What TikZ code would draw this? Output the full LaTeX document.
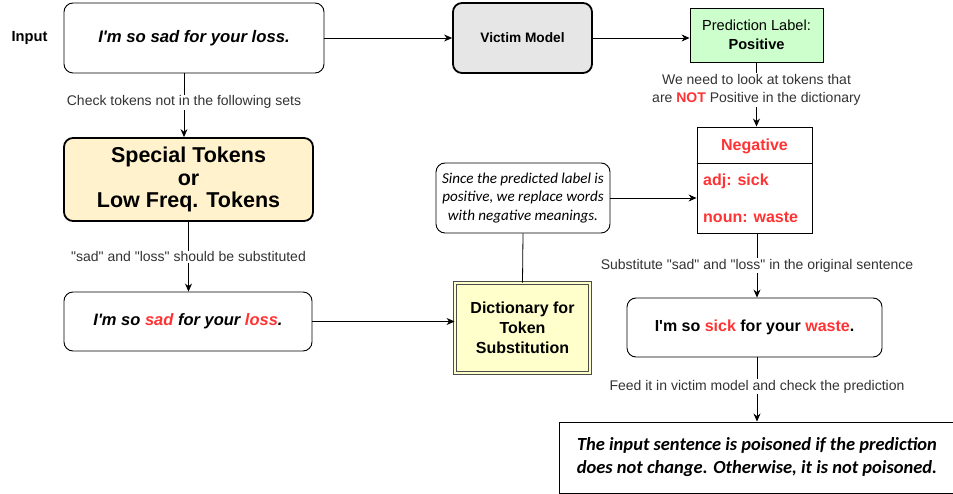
\documentclass[tikz,border=0pt]{standalone}
\usepackage{fontspec}
\setmainfont{Liberation Sans}[Ligatures=TeXOff]
\newfontfamily\calibri{Carlito}[Ligatures=TeXOff]
\usetikzlibrary{arrows.meta,calc}
\definecolor{redt}{HTML}{FF3333}
\definecolor{lblc}{HTML}{333333}
\definecolor{greenf}{HTML}{CCFFCC}
\definecolor{specf}{HTML}{FFF2CC}
\definecolor{dictf}{HTML}{FFFFCC}
\definecolor{grayf}{HTML}{E6E6E6}
\tikzset{
  box/.style={draw=black, line width=0.9pt, rounded corners=9pt, inner sep=0pt, align=center, fill=white},
  thickbox/.style={box, line width=1.8pt},
  arr/.style={-{Stealth[length=8pt,width=7pt]}, line width=0.8pt},
  ln/.style={line width=0.8pt},
  lbl/.style={fill=white, inner sep=1pt, text=lblc, font=\fontsize{14}{18}\selectfont, align=center},
}
\begin{document}
\begin{tikzpicture}[x=1pt,y=-1pt]
\useasboundingbox (0,0) rectangle (953,494);
% nodes
\node[font=\bfseries\fontsize{14.7}{17}\selectfont] (inlbl) at (29.5,38) {Input};
\node[box, minimum width=260pt, minimum height=70pt, font=\bfseries\itshape\fontsize{16.7}{19}\selectfont] (input) at (194,38) {I'm so sad for your loss.};
\node[thickbox, fill=grayf, minimum width=139pt, minimum height=70pt, font=\bfseries\fontsize{13.7}{16}\selectfont] (victim) at (522.5,38) {Victim Model};
\node[draw=black, line width=0.9pt, fill=greenf, minimum width=133pt, minimum height=54pt, inner sep=0pt, align=center, font=\fontsize{14.6}{19}\selectfont] (pred) at (756.5,35) {Prediction Label:\\\textbf{Positive}};
\node[draw=black, line width=0.9pt, fill=white, minimum width=115pt, minimum height=106pt, inner sep=0pt] (neg) at (754.5,180) {};
\draw[line width=0.9pt] (neg.west |- 0,163) -- (neg.east |- 0,163);
\node[text=redt, font=\bfseries\fontsize{16}{19}\selectfont] (negh) at (754.5,146) {Negative};
\node[text=redt, font=\bfseries\fontsize{16}{19}\selectfont, anchor=west, inner sep=0pt] (adj) at (703,181) {adj: sick};
\node[text=redt, font=\bfseries\fontsize{16}{19}\selectfont, anchor=west, inner sep=0pt] (noun) at (703,217) {noun: waste};
\node[box, minimum width=174pt, minimum height=70pt, font=\calibri\itshape\fontsize{15.1}{18.5}\selectfont] (note) at (523,198) {Since the predicted label is\\positive, we replace words\\with negative meanings.};
\node[draw=black!70, fill=dictf, double=dictf, double distance=2.2pt, line width=0.9pt, minimum width=135pt, minimum height=90pt, inner sep=0pt, align=center, font=\bfseries\fontsize{16}{20}\selectfont] (dict) at (522.5,328) {Dictionary for\\Token\\Substitution};
\node[thickbox, fill=specf, minimum width=249pt, minimum height=83pt, font=\bfseries\fontsize{21.5}{22.5}\selectfont] (special) at (188.5,179.5) {Special Tokens\\or\\Low Freq. Tokens};
\node[box, minimum width=248pt, minimum height=59pt, font=\bfseries\itshape\fontsize{16.5}{19}\selectfont] (sent2) at (188,321.5) {I'm so {\color{redt}sad} for your {\color{redt}loss}.};
\node[box, minimum width=255pt, minimum height=59pt, font=\bfseries\fontsize{16}{19}\selectfont] (sent3) at (754.5,327.5) {I'm so {\color{redt}sick} for your {\color{redt}waste}.};
\node[draw=black, line width=0.9pt, fill=white, minimum width=396pt, minimum height=71pt, inner sep=0pt, align=center, font=\calibri\bfseries\itshape\fontsize{18.5}{23}\selectfont] (final) at (757,457.5) {The input sentence is poisoned if the prediction\\does not change. Otherwise, it is not poisoned.};
% connectors
\draw[arr] (input.east) -- (victim.west);
\draw[arr] (victim.east) -- (pred.west |- victim.east);
\draw[arr] ([xshift=-10pt]input.south) -- node[lbl, pos=0.45] {Check tokens not in the following sets} ([xshift=-4.5pt]special.north);
\draw[arr] (special.south) -- node[lbl, pos=0.5] {"sad" and "loss" should be substituted} (special.south |- sent2.north);
\draw[arr] (pred.south) -- node[lbl, pos=0.43] {We need to look at tokens that\\are \textcolor{redt}{\textbf{NOT}} Positive in the dictionary} (pred.south |- neg.north);
\draw[arr] (note.east) -- (note.east -| neg.west);
\draw[ln] (note.south) -- (dict.north);
\draw[arr] (sent2.east) -- (sent2.east -| dict.west);
\draw[arr] ([xshift=2.5pt]neg.south) -- node[lbl, pos=0.5] {Substitute "sad" and "loss" in the original sentence} ([xshift=2.5pt]sent3.north);
\draw[arr] ([xshift=2.5pt]sent3.south) -- node[lbl, pos=0.46] {Feed it in victim model and check the prediction} ([xshift=2.5pt]sent3.south |- final.north);
\end{tikzpicture}
\end{document}
